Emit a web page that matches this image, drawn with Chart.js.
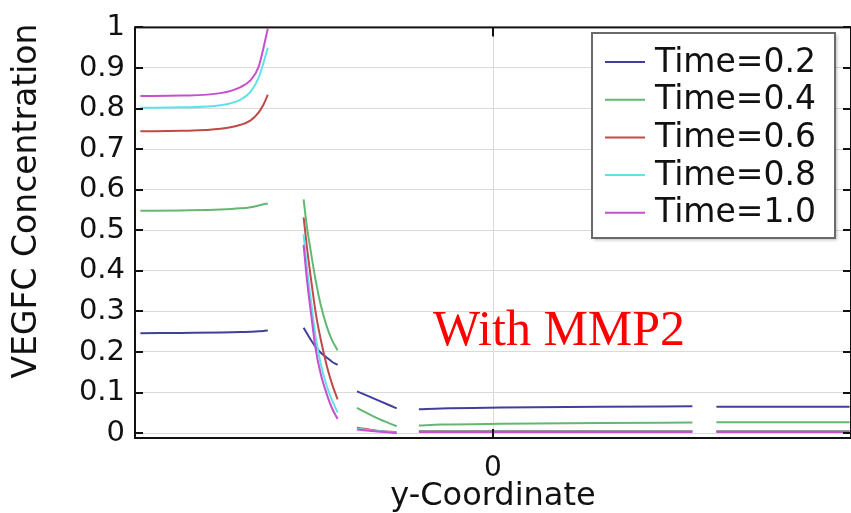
<!DOCTYPE html>
<html>
<head>
<meta charset="utf-8">
<script src="https://cdn.jsdelivr.net/npm/chart.js@4.4.1/dist/chart.umd.min.js"></script>
<style>
	html, body { margin: 0; padding: 0; background: #fff; }
	#wrap { position: relative; width: 851px; height: 513px; }
</style>
</head>
<body>
<div id="wrap"><canvas id="vegfc"></canvas></div>
<script>
'use strict';

const SERIES_LABELS = [ 'Time=0.2', 'Time=0.4', 'Time=0.6', 'Time=0.8', 'Time=1.0' ];
const Y_TICKS = [ 0, 0.1, 0.2, 0.3, 0.4, 0.5, 0.6, 0.7, 0.8, 0.9, 1 ];
const X_TICKS = [ 0 ];

// y-Coordinate sample positions, one list per sub-domain
const X_DOMAIN_1 = [ -0.985, -0.873, -0.761, -0.705, -0.677, -0.655, -0.641, -0.629 ];
const X_DOMAIN_2 = [ -0.529, -0.520, -0.509, -0.495, -0.481, -0.464, -0.450, -0.434 ];
const X_DOMAIN_3 = [ -0.380, -0.324, -0.269 ];
const X_DOMAIN_4 = [ -0.207, -0.145, 0.022, 0.302, 0.557 ];
const X_DOMAIN_5 = [ 0.624, 0.996 ];

// VEGFC concentration, rows in SERIES_LABELS order
const C_DOMAIN_1 = [
	[ 0.246, 0.247, 0.248, 0.249, 0.250, 0.251, 0.252, 0.253 ],
	[ 0.548, 0.549, 0.551, 0.554, 0.557, 0.561, 0.564, 0.566 ],
	[ 0.744, 0.745, 0.750, 0.760, 0.771, 0.790, 0.810, 0.834 ],
	[ 0.802, 0.803, 0.808, 0.822, 0.842, 0.875, 0.913, 0.950 ],
	[ 0.831, 0.832, 0.838, 0.853, 0.870, 0.902, 0.950, 0.997 ],
];
const C_DOMAIN_2 = [
	[ 0.260, 0.246, 0.230, 0.212, 0.198, 0.186, 0.176, 0.168 ],
	[ 0.576, 0.510, 0.448, 0.375, 0.315, 0.262, 0.230, 0.204 ],
	[ 0.532, 0.460, 0.384, 0.295, 0.230, 0.165, 0.122, 0.083 ],
	[ 0.490, 0.410, 0.330, 0.235, 0.170, 0.115, 0.082, 0.051 ],
	[ 0.464, 0.380, 0.300, 0.205, 0.145, 0.095, 0.062, 0.035 ],
];
const C_DOMAIN_3 = [
	[ 0.103, 0.082, 0.061 ],
	[ 0.062, 0.037, 0.017 ],
	[ 0.013, 0.006, 0.002 ],
	[ 0.011, 0.005, 0.001 ],
	[ 0.009, 0.004, 0.000 ],
];
const C_DOMAIN_4 = [
	[ 0.059, 0.061, 0.063, 0.065, 0.066 ],
	[ 0.019, 0.021, 0.023, 0.025, 0.026 ],
	[ 0.005, 0.005, 0.005, 0.005, 0.005 ],
	[ 0.004, 0.004, 0.004, 0.004, 0.004 ],
	[ 0.003, 0.003, 0.003, 0.003, 0.003 ],
];
const C_DOMAIN_5 = [
	[ 0.065, 0.065 ],
	[ 0.027, 0.027 ],
	[ 0.005, 0.005 ],
	[ 0.004, 0.004 ],
	[ 0.003, 0.003 ],
];

( function () {
	const PALETTE = [ '#40409a', '#62b872', '#c04a48', '#5fe2ea', '#c64fce' ];
	const FONT = 'DejaVu Sans';

	const domains = [
		{ x: X_DOMAIN_1, c: C_DOMAIN_1 },
		{ x: X_DOMAIN_2, c: C_DOMAIN_2 },
		{ x: X_DOMAIN_3, c: C_DOMAIN_3 },
		{ x: X_DOMAIN_4, c: C_DOMAIN_4 },
		{ x: X_DOMAIN_5, c: C_DOMAIN_5 },
	];

	// join the sub-domains into one series, with a null point between them
	function buildSeries( index ) {
		const points = [];
		domains.forEach( function ( dom, d ) {
			if ( d > 0 ) {
				points.push( { x: ( dom.x[ 0 ] + points[ points.length - 1 ].x ) / 2, y: null } );
			}
			dom.x.forEach( function ( x, k ) {
				points.push( { x: x, y: dom.c[ index ][ k ] } );
			} );
		} );
		return points;
	}

	const datasets = SERIES_LABELS.map( function ( label, i ) {
		return {
			label: label,
			data: buildSeries( i ),
			borderColor: PALETTE[ i ],
			backgroundColor: PALETTE[ i ],
			borderWidth: 2,
			pointRadius: 0,
			fill: false,
			spanGaps: false,
			cubicInterpolationMode: 'monotone',
		};
	} ).reverse();

	// frame, inward ticks, axis title, note and boxed legend
	const decorations = {
		id: 'decorations',
		afterDraw: function ( chart ) {
			const ctx = chart.ctx;
			const a = chart.chartArea;
			const xs = chart.scales.x;
			const ys = chart.scales.y;

			ctx.save();
			ctx.strokeStyle = '#111';
			ctx.lineWidth = 2;
			ctx.strokeRect( a.left, a.top, a.right - a.left, a.bottom - a.top );

			ctx.beginPath();
			ys.ticks.forEach( function ( t ) {
				const py = Math.round( ys.getPixelForValue( t.value ) );
				ctx.moveTo( a.left, py );
				ctx.lineTo( a.left + 8, py );
				ctx.moveTo( a.right, py );
				ctx.lineTo( a.right - 8, py );
			} );
			xs.ticks.forEach( function ( t ) {
				const px = Math.round( xs.getPixelForValue( t.value ) );
				ctx.moveTo( px, a.bottom );
				ctx.lineTo( px, a.bottom - 9 );
				ctx.moveTo( px, a.top );
				ctx.lineTo( px, a.top + 9 );
			} );
			ctx.stroke();

			// y-axis title
			ctx.save();
			ctx.translate( 27, 201 );
			ctx.rotate( -Math.PI / 2 );
			ctx.fillStyle = '#111';
			ctx.font = '33px "' + FONT + '"';
			ctx.textAlign = 'center';
			ctx.textBaseline = 'middle';
			ctx.fillText( 'VEGFC Concentration', 0, 0 );
			ctx.restore();

			// note
			ctx.fillStyle = '#ff0000';
			ctx.font = '50px "Liberation Serif"';
			ctx.textAlign = 'center';
			ctx.textBaseline = 'alphabetic';
			ctx.fillText( 'With MMP2', 559, 345 );

			// legend box
			const box = { left: 592, top: 33, width: 243, height: 205 };
			ctx.shadowColor = 'rgba(0,0,0,0.25)';
			ctx.shadowOffsetX = 2;
			ctx.shadowOffsetY = 2;
			ctx.shadowBlur = 3;
			ctx.fillStyle = '#fff';
			ctx.fillRect( box.left, box.top, box.width, box.height );
			ctx.shadowColor = 'transparent';
			ctx.strokeStyle = '#6a6a6a';
			ctx.lineWidth = 2;
			ctx.strokeRect( box.left, box.top, box.width, box.height );

			ctx.font = '33px "' + FONT + '"';
			ctx.textAlign = 'left';
			ctx.textBaseline = 'middle';
			SERIES_LABELS.forEach( function ( label, i ) {
				const cy = box.top + 29 + i * 37.7;
				ctx.strokeStyle = PALETTE[ i ];
				ctx.lineWidth = 2;
				ctx.beginPath();
				ctx.moveTo( box.left + 13, cy );
				ctx.lineTo( box.left + 53, cy );
				ctx.stroke();
				ctx.fillStyle = '#111';
				ctx.fillText( label, box.left + 63, cy + 1 );
			} );

			ctx.restore();
		},
	};

	new Chart( document.getElementById( 'vegfc' ), {
		type: 'line',
		data: { datasets: datasets },
		plugins: [ decorations ],
		options: {
			responsive: true,
			maintainAspectRatio: false,
			animation: false,
			layout: { padding: { top: 16, right: 0, left: 0, bottom: 0 } },
			plugins: {
				legend: { display: false },
				tooltip: { enabled: false },
			},
			scales: {
				x: {
					type: 'linear',
					min: -1,
					max: 1,
					afterBuildTicks: function ( scale ) {
						scale.ticks = X_TICKS.map( function ( v ) {
							return { value: v };
						} );
					},
					afterFit: function ( scale ) {
						scale.height = 75;
					},
					grid: { color: '#dadada', lineWidth: 1, drawTicks: false },
					border: { display: false },
					ticks: {
						padding: 14,
						color: '#111',
						font: { family: FONT, size: 28 },
						callback: function ( v ) {
							return String( v );
						},
					},
					title: {
						display: true,
						text: 'y-Coordinate',
						color: '#111',
						font: { family: FONT, size: 32, lineHeight: 1 },
						padding: { top: 0, bottom: 0 },
					},
				},
				y: {
					min: -0.012,
					max: 1,
					afterBuildTicks: function ( scale ) {
						scale.ticks = Y_TICKS.map( function ( v ) {
							return { value: v };
						} );
					},
					afterFit: function ( scale ) {
						scale.width = 135;
					},
					grid: { color: '#dadada', lineWidth: 1, drawTicks: false },
					border: { display: false },
					ticks: {
						padding: 10,
						color: '#111',
						font: { family: FONT, size: 29 },
						callback: function ( v ) {
							return ( 0 === v || 1 === v ) ? String( v ) : v.toFixed( 1 );
						},
					},
				},
			},
		},
	} );
}() );
</script>
</body>
</html>
